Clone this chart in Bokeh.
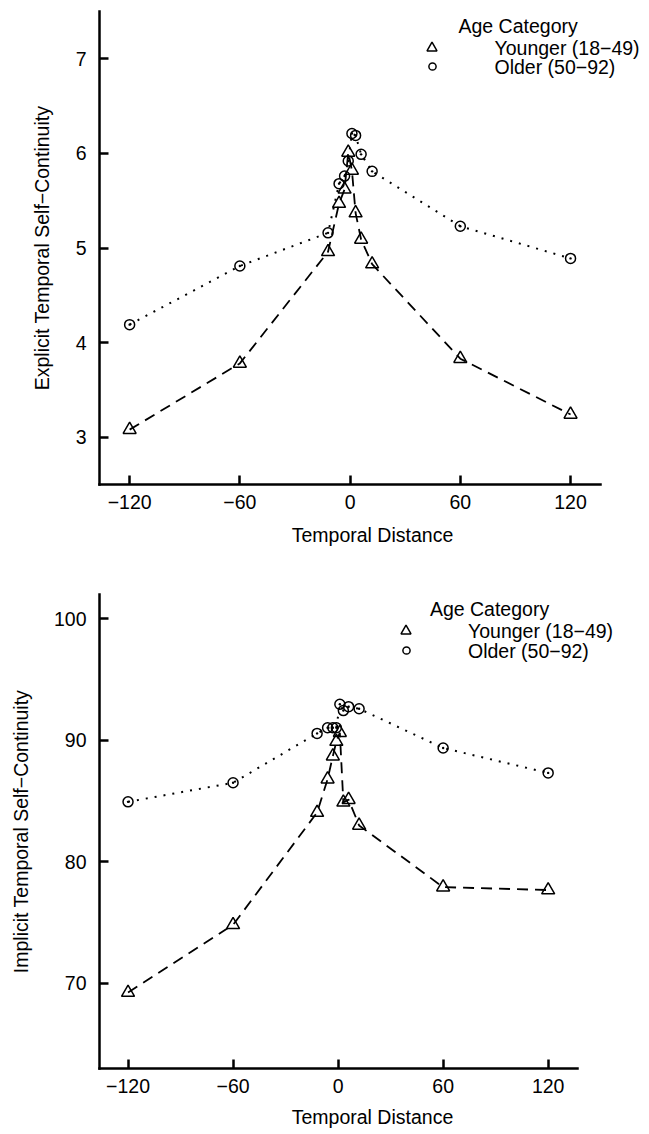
from bokeh.plotting import figure
from bokeh.layouts import column
from bokeh.models import FixedTicker, Range1d, Label, Legend, LegendItem
from bokeh.embed import file_html
from bokeh.resources import INLINE

# ---- data ----
distance = [-120, -60, -12, -6, -3, -1, 1, 3, 6, 12, 60, 120]
explicit_younger = [3.08, 3.78, 4.96, 5.47, 5.62, 6.01, 5.82, 5.37, 5.09, 4.83, 3.83, 3.24]
explicit_older = [4.19, 4.81, 5.16, 5.68, 5.76, 5.92, 6.21, 6.19, 5.99, 5.81, 5.23, 4.89]
implicit_younger = [69.25, 74.82, 84.06, 86.8, 88.7, 89.9, 90.63, 84.9, 85.12, 83.0, 77.92, 77.68]
implicit_older = [84.94, 86.51, 90.57, 91.04, 91.04, 91.04, 92.97, 92.45, 92.77, 92.6, 89.37, 87.32]

x_ticks = [-120, -60, 0, 60, 120]
x_tick_labels = ["\u2212120", "\u221260", "0", "60", "120"]
explicit_ticks = [3, 4, 5, 6, 7]
implicit_ticks = [70, 80, 90, 100]
x_title = "Temporal Distance"
explicit_title = "Explicit Temporal Self\u2212Continuity"
implicit_title = "Implicit Temporal Self\u2212Continuity"
legend_title = "Age Category"
group_labels = ["Younger (18\u221249)", "Older (50\u221292)"]

FONT = "Liberation Sans"
FS = "19.5px"


def legend_glyph(p, renderer, cx, cy, box):
    lg = Legend(items=[LegendItem(label=" ", renderers=[renderer])],
                location=(cx - box / 2, cy - box / 2),
                glyph_width=box, glyph_height=box, label_height=0, label_width=0,
                label_standoff=0, label_text_font_size="1px", padding=0, margin=0,
                spacing=0, border_line_color=None, background_fill_alpha=0)
    p.add_layout(lg)


def make_panel(height, borders, xr, xbounds, yr, y_ticks, y_title, younger, older,
               xlab_standoff, ylab_standoff, leg):
    top, right, bottom, left = borders
    p = figure(width=649, height=height, output_backend="svg", toolbar_location=None,
               x_range=Range1d(*xr), y_range=Range1d(*yr),
               min_border_top=top, min_border_right=right,
               min_border_bottom=bottom, min_border_left=left)
    p.outline_line_color = None
    p.grid.visible = False
    p.background_fill_color = "white"
    p.border_fill_color = "white"

    for ax in (p.xaxis[0], p.yaxis[0]):
        ax.axis_line_width = 2.5
        ax.axis_line_color = "black"
        ax.axis_line_cap = "square"
        ax.major_tick_line_width = 2.5
        ax.major_tick_line_color = "black"
        ax.major_tick_in = 9
        ax.major_tick_out = 0
        ax.minor_tick_line_color = None
        ax.major_label_text_font = FONT
        ax.major_label_text_font_size = FS
        ax.major_label_text_color = "black"
        ax.axis_label_text_font = FONT
        ax.axis_label_text_font_size = FS
        ax.axis_label_text_font_style = "normal"
        ax.axis_label_text_color = "black"

    xa = p.xaxis[0]
    xa.ticker = FixedTicker(ticks=x_ticks)
    xa.bounds = xbounds
    xa.major_label_overrides = {t: s for t, s in zip(x_ticks, x_tick_labels)}
    xa.major_label_standoff = 10
    xa.axis_label = x_title
    xa.axis_label_standoff = xlab_standoff

    ya = p.yaxis[0]
    ya.ticker = FixedTicker(ticks=y_ticks)
    ya.major_label_standoff = 13
    ya.axis_label = y_title
    ya.axis_label_standoff = ylab_standoff

    p.line(distance, younger, line_color="black", line_width=1.8, line_dash="11 7")
    p.line(distance, older, line_color="black", line_width=2, line_dash="2 7")
    ry = p.scatter(distance, younger, marker="triangle", size=13, fill_color=None,
                   line_color="black", line_width=1.5)
    ro = p.scatter(distance, older, marker="circle", size=10, fill_color=None,
                   line_color="black", line_width=1.5)
    p.scatter(distance, older, marker="circle", size=2.4, fill_color="black", line_color=None)

    tx, ty, gx, mx, y1, y2 = leg
    p.add_layout(Label(x=tx, y=ty, x_units="screen", y_units="screen", text=legend_title,
                       text_font=FONT, text_font_size=FS, text_baseline="middle",
                       text_align="left", text_color="black"))
    for lab, yy in zip(group_labels, (y1, y2)):
        p.add_layout(Label(x=gx, y=yy, x_units="screen", y_units="screen", text=lab,
                           text_font=FONT, text_font_size=FS, text_baseline="middle",
                           text_align="left", text_color="black"))
    legend_glyph(p, ry, mx, y1, 25)
    legend_glyph(p, ro, mx, y2, 18)
    return p


p1 = make_panel(560, (11, 4, 76, 99), (-136.4, 160.8), (-136.4, 136.3), (2.5, 7.5),
                explicit_ticks, explicit_title, explicit_younger, explicit_older, 12, 20,
                (359, 459, 395, 332.7, 437, 418))
p2 = make_panel(574, (34, 4, 66, 98), (-136.3, 175.6), (-136.3, 137.0), (63.0, 102.0),
                implicit_ticks, implicit_title, implicit_younger, implicit_older, 10, 19,
                (330.4, 460, 368.5, 306.8, 438, 418))

layout = column(p1, p2, spacing=0)
open("out.html", "w").write(file_html(layout, INLINE))
